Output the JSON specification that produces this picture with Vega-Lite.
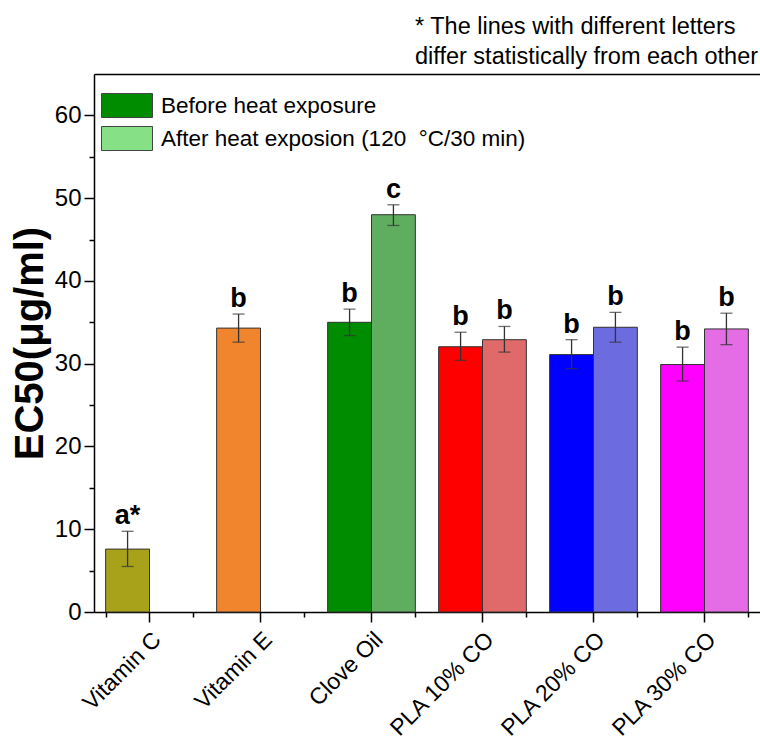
{
  "$schema": "https://vega.github.io/schema/vega-lite/v6.json",
  "autosize": {"type": "none"},
  "padding": {"left": 94, "top": 74, "right": 0, "bottom": 131},
  "width": 666,
  "height": 538,
  "background": "white",
  "config": {
    "view": {"stroke": null},
    "font": "Liberation Sans",
    "axis": {"labelFont": "Liberation Sans", "titleFont": "Liberation Sans", "domainColor": "black", "tickColor": "black", "labelColor": "black", "titleColor": "black", "grid": false, "domainWidth": 1.5, "tickWidth": 1.5}
  },
  "title": {
    "text": ["* The lines with different letters", "\u2002differ statistically from each other"],
    "anchor": "start",
    "frame": "group",
    "dx": 321,
    "fontSize": 23.5,
    "fontWeight": "normal",
    "font": "Liberation Sans",
    "color": "black",
    "lineHeight": 30,
    "offset": 6
  },
  "data": {
    "values": [
      {"cat": "Vitamin C", "cond": "Before", "key": "Vitamin C|Before", "value": 7.6, "lo": 5.5, "hi": 9.75, "letter": "a*"},
      {"cat": "Vitamin E", "cond": "Before", "key": "Vitamin E|Before", "value": 34.3, "lo": 32.6, "hi": 36.0, "letter": "b"},
      {"cat": "Clove Oil", "cond": "Before", "key": "Clove Oil|Before", "value": 35.0, "lo": 33.4, "hi": 36.6, "letter": "b"},
      {"cat": "Clove Oil", "cond": "After", "key": "Clove Oil|After", "value": 48.0, "lo": 46.7, "hi": 49.2, "letter": "c"},
      {"cat": "PLA 10% CO", "cond": "Before", "key": "PLA 10% CO|Before", "value": 32.05, "lo": 30.4, "hi": 33.8, "letter": "b"},
      {"cat": "PLA 10% CO", "cond": "After", "key": "PLA 10% CO|After", "value": 32.9, "lo": 31.4, "hi": 34.5, "letter": "b"},
      {"cat": "PLA 20% CO", "cond": "Before", "key": "PLA 20% CO|Before", "value": 31.1, "lo": 29.4, "hi": 32.9, "letter": "b"},
      {"cat": "PLA 20% CO", "cond": "After", "key": "PLA 20% CO|After", "value": 34.4, "lo": 32.6, "hi": 36.2, "letter": "b"},
      {"cat": "PLA 30% CO", "cond": "Before", "key": "PLA 30% CO|Before", "value": 29.9, "lo": 27.9, "hi": 32.0, "letter": "b"},
      {"cat": "PLA 30% CO", "cond": "After", "key": "PLA 30% CO|After", "value": 34.2, "lo": 32.3, "hi": 36.1, "letter": "b"}
    ]
  },
  "encoding": {
    "x": {"field": "cat", "type": "nominal", "sort": ["Vitamin C", "Vitamin E", "Clove Oil", "PLA 10% CO", "PLA 20% CO", "PLA 30% CO"],
          "scale": {"paddingInner": 0.21, "paddingOuter": 0.105}},
    "xOffset": {"field": "cond", "type": "nominal", "sort": ["Before", "After"], "scale": {"domain": ["Before", "After"], "paddingInner": 0, "paddingOuter": 0}}
  },
  "layer": [
    {
      "mark": {"type": "bar", "stroke": "#333333", "strokeWidth": 1},
      "encoding": {
        "x": {"field": "cat", "type": "nominal", "sort": ["Vitamin C", "Vitamin E", "Clove Oil", "PLA 10% CO", "PLA 20% CO", "PLA 30% CO"],
              "axis": {"title": null, "orient": "bottom", "labelAngle": -45, "labelFontSize": 23, "tickSize": 10, "labelPadding": 6, "domain": true}},
        "y": {"field": "value", "type": "quantitative", "scale": {"domain": [0, 65], "nice": false},
              "axis": {"title": "EC50(μg/ml)", "orient": "left", "titleFontSize": 40, "titleFontWeight": "bold", "titlePadding": 4,
                       "values": [0, 5, 10, 15, 20, 25, 30, 35, 40, 45, 50, 55, 60],
                       "labelExpr": "datum.value % 10 == 0 ? datum.label : ''",
                       "labelFontSize": 24,
                       "tickSize": {"condition": {"test": "datum.value % 10 == 0", "value": 10}, "value": 5},
                       "labelPadding": {"condition": {"test": "datum.value % 10 == 0", "value": 3}, "value": 8}}},
        "fill": {"field": "key", "type": "nominal",
                 "scale": {
                   "domain": ["Vitamin C|Before", "Vitamin E|Before", "Clove Oil|Before", "Clove Oil|After", "PLA 10% CO|Before", "PLA 10% CO|After", "PLA 20% CO|Before", "PLA 20% CO|After", "PLA 30% CO|Before", "PLA 30% CO|After", "Legend|After"],
                   "range": ["#a8a21a", "#f0852d", "#008c00", "#5fae5f", "#ff0000", "#e06a6a", "#0000ff", "#6c6ce0", "#ff00ff", "#e46ce4", "#86e086"]
                 },
                 "legend": {
                   "values": ["Clove Oil|Before", "Legend|After"],
                   "labelExpr": "datum.value == 'Clove Oil|Before' ? 'Before heat exposure' : 'After heat exposion (120\u00a0\u00a0°C/30 min)'",
                   "title": null,
                   "orient": "none",
                   "legendX": 20.5,
                   "legendY": 19,
                   "padding": 0,
                   "symbolType": "M-2.125,-1H2.125V1H-2.125Z",
                   "symbolSize": 576,
                   "symbolStrokeColor": "#444444",
                   "symbolStrokeWidth": 1,
                   "labelFontSize": 22.5,
                   "labelFont": "Liberation Sans",
                   "labelColor": "black",
                   "labelLimit": 0,
                   "labelOffset": 21.5,
                   "rowPadding": 4
                 }}
      }
    },
    {
      "mark": {"type": "rule", "color": "#333333", "strokeWidth": 1.3},
      "encoding": {
        "x": {"field": "cat", "type": "nominal", "sort": ["Vitamin C", "Vitamin E", "Clove Oil", "PLA 10% CO", "PLA 20% CO", "PLA 30% CO"],
              "axis": {"title": null, "orient": "bottom", "labels": false, "tickBand": "extent", "tickSize": 5, "domain": false}},
        "y": {"field": "lo", "type": "quantitative", "axis": null},
        "y2": {"field": "hi"}
      }
    },
    {
      "mark": {"type": "tick", "color": "#333333", "thickness": 1.3, "size": 12, "orient": "horizontal"},
      "encoding": {
        "x": {"field": "cat", "type": "nominal", "sort": ["Vitamin C", "Vitamin E", "Clove Oil", "PLA 10% CO", "PLA 20% CO", "PLA 30% CO"],
              "axis": {"title": null, "orient": "top", "labels": false, "ticks": false, "domain": true}},
        "y": {"field": "lo", "type": "quantitative", "axis": null}
      }
    },
    {
      "mark": {"type": "tick", "color": "#333333", "thickness": 1.3, "size": 12, "orient": "horizontal"},
      "encoding": {
        "x": {"field": "cat", "type": "nominal", "sort": ["Vitamin C", "Vitamin E", "Clove Oil", "PLA 10% CO", "PLA 20% CO", "PLA 30% CO"], "axis": null},
        "y": {"field": "hi", "type": "quantitative", "axis": null}
      }
    },
    {
      "mark": {"type": "text", "baseline": "alphabetic", "dy": -7, "fontSize": 27, "fontWeight": "bold", "font": "Liberation Sans", "color": "black"},
      "encoding": {
        "x": {"field": "cat", "type": "nominal", "sort": ["Vitamin C", "Vitamin E", "Clove Oil", "PLA 10% CO", "PLA 20% CO", "PLA 30% CO"], "axis": null},
        "y": {"field": "hi", "type": "quantitative", "axis": null},
        "text": {"field": "letter"}
      }
    }
  ],
  "resolve": {"axis": {"x": "independent", "y": "independent"}}
}
